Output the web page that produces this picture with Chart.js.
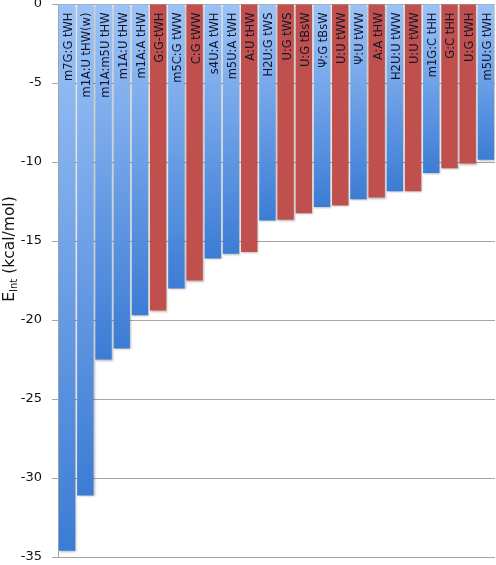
<!DOCTYPE html>
<html>
<head>
<meta charset="utf-8">
<script src="https://cdn.jsdelivr.net/npm/chart.js@4/dist/chart.umd.min.js"></script>
<style>
  html, body { margin: 0; padding: 0; background: #ffffff; }
  #wrap { width: 496px; height: 565px; position: relative; }
</style>
</head>
<body>
<div id="wrap"><canvas id="c" width="496" height="565"></canvas></div>
<script>
const categories = ["m7G:G tWH","m1A:U tHW(w)","m1A:m5U tHW","m1A:U tHW","m1A:A tHW","G:G-tWH","m5C:G tWW","C:G tWW","s4U:A tWH","m5U:A tWH","A:U tHW","H2U:G tWS","U:G tWS","U:G tBsW","Ψ:G tBsW","U:U tWW","Ψ:U tWW","A:A tHW","H2U:U tWW","U:U tWW","m1G:C tHH","G:C tHH","U:G tWH","m5U:G tWH"];
const eInt = [-34.6,-31.1,-22.5,-21.8,-19.7,-19.4,-18.0,-17.5,-16.1,-15.8,-15.7,-13.7,-13.65,-13.25,-12.85,-12.75,-12.35,-12.25,-11.85,-11.85,-10.7,-10.4,-10.1,-9.85];
const colorGroup = ["b","b","b","b","b","r","b","r","b","b","r","b","r","r","b","r","b","r","b","r","b","r","r","b"];
const yTicks = [0,-5,-10,-15,-20,-25,-30,-35];

function barFill(ctx) {
  if (ctx.type !== 'data') return '#6fa3ea';
  const g = colorGroup[ctx.dataIndex];
  if (g === 'r') return '#c0504d';
  const chart = ctx.chart;
  const ys = chart.scales && chart.scales.y;
  if (!ys || !isFinite(ys.top)) return '#6fa3ea';
  const top = ys.getPixelForValue(0);
  const bot = ys.getPixelForValue(ctx.raw);
  if (!isFinite(top) || !isFinite(bot) || bot <= top) return '#6fa3ea';
  const grad = chart.ctx.createLinearGradient(0, top, 0, bot);
  grad.addColorStop(0, '#9cc3f7');
  grad.addColorStop(1, '#3c7cd5');
  return grad;
}

const decor = {
  id: 'decor',
  beforeDatasetsDraw(chart) {
    const c = chart.ctx;
    c.save();
    c.shadowColor = 'rgba(0,0,0,0.28)';
    c.shadowBlur = 2;
    c.shadowOffsetX = 1;
    c.shadowOffsetY = 1;
  },
  afterDatasetsDraw(chart) {
    const c = chart.ctx;
    c.restore();
    const meta = chart.getDatasetMeta(0);
    c.save();
    c.font = '11.5px "DejaVu Sans"';
    c.fillStyle = '#15152a';
    c.textAlign = 'right';
    c.textBaseline = 'middle';
    meta.data.forEach((el, i) => {
      const topY = Math.min(el.y, el.base);
      c.save();
      c.translate(el.x + 2, topY + 8);
      c.rotate(-Math.PI / 2);
      c.fillText(categories[i], 0, 0);
      c.restore();
    });
    c.restore();
  },
  afterDraw(chart) {
    const c = chart.ctx;
    c.save();
    const big = '15.5px "DejaVu Sans"', small = '10px "DejaVu Sans"';
    c.font = big; const wE = c.measureText('E').width; const wRest = c.measureText(' (kcal/mol)').width;
    c.font = small; const wSub = c.measureText('Int').width;
    const total = wE + wSub + wRest;
    c.translate(9, 249);
    c.rotate(-Math.PI / 2);
    c.fillStyle = '#111111';
    c.textBaseline = 'alphabetic';
    c.textAlign = 'left';
    let x = -total / 2;
    c.font = big; c.fillText('E', x, 5); x += wE;
    c.font = small; c.fillText('Int', x, 8); x += wSub;
    c.font = big; c.fillText(' (kcal/mol)', x, 5);
    c.restore();
  }
};

new Chart(document.getElementById('c'), {
  type: 'bar',
  data: {
    labels: categories,
    datasets: [{
      data: eInt,
      backgroundColor: barFill,
      borderWidth: 0,
      barPercentage: 0.9,
      categoryPercentage: 1.0
    }]
  },
  options: {
    responsive: false,
    animation: false,
    devicePixelRatio: 1,
    layout: { padding: { top: 4, bottom: 8, left: 0, right: 1 } },
    plugins: { legend: { display: false }, tooltip: { enabled: false } },
    scales: {
      x: { display: false, grid: { display: false } },
      y: {
        min: -35, max: 0,
        afterFit(scale) { scale.width = 58; scale.paddingTop = 0; scale.paddingBottom = 0; },
        afterBuildTicks(scale) { scale.ticks = yTicks.map(v => ({ value: v })); },
        ticks: {
          font: { family: 'DejaVu Sans', size: 13 },
          color: '#111111',
          padding: 10
        },
        grid: { color: '#a6a6a6', lineWidth: 1, tickLength: 6, drawTicks: true },
        border: { color: '#a6a6a6', width: 1 }
      }
    }
  },
  plugins: [decor]
});
</script>
</body>
</html>
